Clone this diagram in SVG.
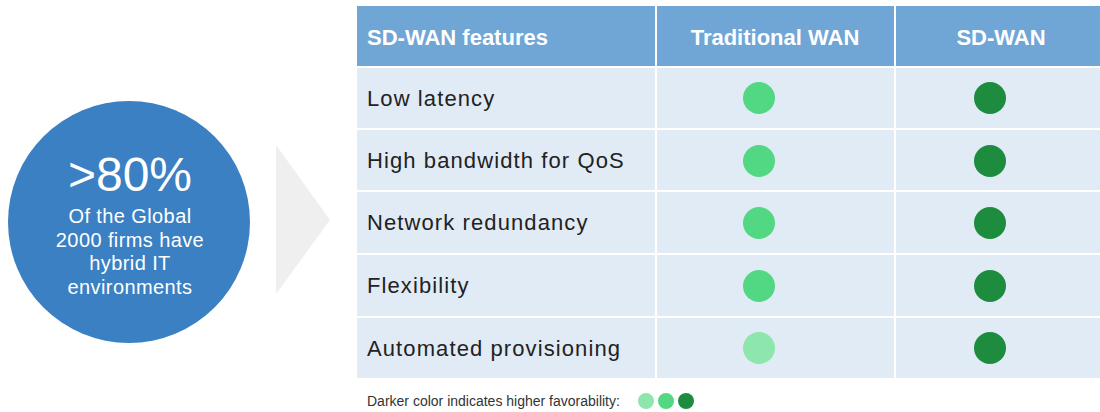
<svg xmlns="http://www.w3.org/2000/svg" width="1100" height="412" viewBox="0 0 1100 412">
<style>
.hdr{fill:#6fa6d6}
.row{fill:#e1ebf5}
.ht{font-family:"Liberation Sans",Arial,sans-serif;font-size:22px;font-weight:bold;fill:#ffffff}
.rt{font-family:"Liberation Sans",Arial,sans-serif;font-size:22px;letter-spacing:1.1px;fill:#222222}
.ct{font-family:"Liberation Sans",Arial,sans-serif;fill:#ffffff;text-anchor:middle}
.lt{font-family:"Liberation Sans",Arial,sans-serif;font-size:14px;fill:#333333}
.mid{fill:#52d883}
.dark{fill:#1e8c3f}
.light{fill:#8de6ab}
</style>
<rect width="1100" height="412" fill="#ffffff"/>
<g id="stat">
<circle cx="129" cy="222" r="121" fill="#3a80c3"/>
<text class="ct" x="130" y="191" font-size="48">&gt;80%</text>
<text class="ct" x="130" y="223" font-size="20" letter-spacing="0.4">Of the Global</text>
<text class="ct" x="130" y="247" font-size="20" letter-spacing="0.4">2000 firms have</text>
<text class="ct" x="130" y="270" font-size="20" letter-spacing="0.4">hybrid IT</text>
<text class="ct" x="130" y="294" font-size="20" letter-spacing="0.4">environments</text>
</g>
<g id="chevron">
<polygon points="276,145 330,220 276,294" fill="#efefef"/>
</g>
<g id="table">
<rect class="hdr" x="357" y="6" width="298" height="60"/>
<rect class="hdr" x="657" y="6" width="237" height="60"/>
<rect class="hdr" x="896" y="6" width="204" height="60"/>
<text class="ht" x="367" y="45">SD-WAN features</text>
<text class="ht" x="775" y="45" text-anchor="middle">Traditional WAN</text>
<text class="ht" x="1001" y="45" text-anchor="middle">SD-WAN</text>
<g id="row1">
<rect class="row" x="357" y="68" width="298" height="60"/>
<rect class="row" x="657" y="68" width="237" height="60"/>
<rect class="row" x="896" y="68" width="204" height="60"/>
<text class="rt" x="367" y="106">Low latency</text>
<circle class="mid" cx="759" cy="98" r="16"/>
<circle class="dark" cx="990" cy="98" r="16"/>
</g>
<g id="row2">
<rect class="row" x="357" y="130" width="298" height="60"/>
<rect class="row" x="657" y="130" width="237" height="60"/>
<rect class="row" x="896" y="130" width="204" height="60"/>
<text class="rt" x="367" y="168">High bandwidth for QoS</text>
<circle class="mid" cx="759" cy="161" r="16"/>
<circle class="dark" cx="990" cy="161" r="16"/>
</g>
<g id="row3">
<rect class="row" x="357" y="192" width="298" height="61"/>
<rect class="row" x="657" y="192" width="237" height="61"/>
<rect class="row" x="896" y="192" width="204" height="61"/>
<text class="rt" x="367" y="230">Network redundancy</text>
<circle class="mid" cx="759" cy="223" r="16"/>
<circle class="dark" cx="990" cy="223" r="16"/>
</g>
<g id="row4">
<rect class="row" x="357" y="255" width="298" height="61"/>
<rect class="row" x="657" y="255" width="237" height="61"/>
<rect class="row" x="896" y="255" width="204" height="61"/>
<text class="rt" x="367" y="293">Flexibility</text>
<circle class="mid" cx="759" cy="286" r="16"/>
<circle class="dark" cx="990" cy="286" r="16"/>
</g>
<g id="row5">
<rect class="row" x="357" y="318" width="298" height="60"/>
<rect class="row" x="657" y="318" width="237" height="60"/>
<rect class="row" x="896" y="318" width="204" height="60"/>
<text class="rt" x="367" y="356">Automated provisioning</text>
<circle class="light" cx="759" cy="348" r="16"/>
<circle class="dark" cx="990" cy="348" r="16"/>
</g>
</g>
<g id="legend">
<text class="lt" x="367" y="406">Darker color indicates higher favorability:</text>
<circle class="light" cx="646" cy="401" r="8"/>
<circle class="mid" cx="666" cy="401" r="8"/>
<circle class="dark" cx="686" cy="401" r="8"/>
</g>
<g id="connectors"/>
</svg>
